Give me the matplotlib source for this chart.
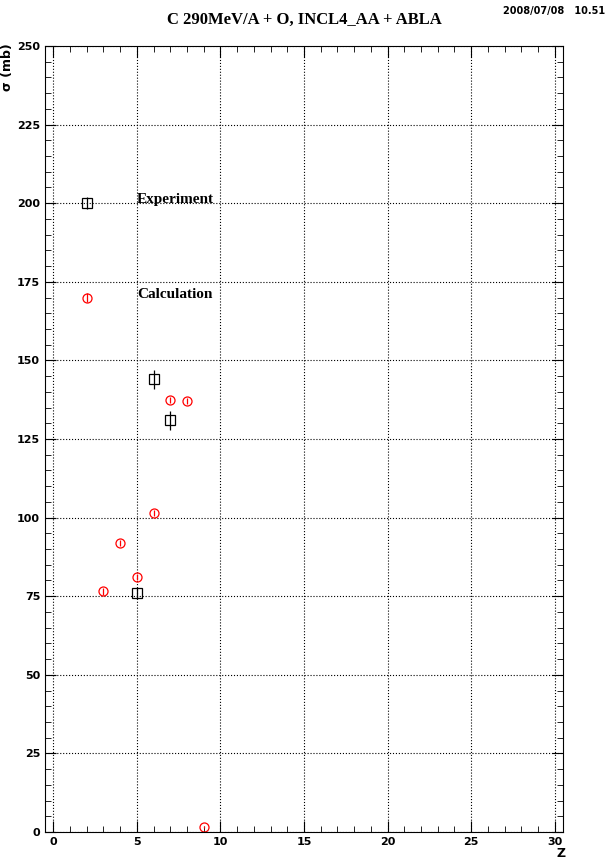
import matplotlib.pyplot as plt
from matplotlib.ticker import MultipleLocator

exp_z = [2, 5, 6, 7]
exp_sigma = [200, 76, 144, 131]
exp_err = [2, 2, 3, 3]

calc_z = [2, 3, 4, 5, 6, 7, 8, 9]
calc_sigma = [170, 76.5, 92, 81, 101.5, 137.5, 137, 1.5]
calc_err = [1.5, 1, 1, 1, 1, 1, 1, 0.3]

fig = plt.figure(figsize=(6.08, 8.61), dpi=100)
ax = fig.add_axes([45 / 608, 29 / 861, 518 / 608, 786 / 861])

ax.errorbar(exp_z, exp_sigma, yerr=exp_err, fmt='s', mfc='none', mec='black',
            ecolor='black', ms=6.5, mew=0.9, elinewidth=0.9)
ax.errorbar(calc_z, calc_sigma, yerr=calc_err, fmt='o', mfc='none', mec='red',
            ecolor='red', ms=6.5, mew=0.9, elinewidth=0.9)

ax.set_xlim(-0.5, 30.5)
ax.set_ylim(0, 250)
ax.xaxis.set_major_locator(MultipleLocator(5))
ax.xaxis.set_minor_locator(MultipleLocator(1))
ax.yaxis.set_major_locator(MultipleLocator(25))
ax.yaxis.set_minor_locator(MultipleLocator(5))
ax.tick_params(which='both', direction='in', top=True, right=True, labelsize=8)
ax.tick_params(which='major', length=8)
ax.tick_params(which='minor', length=4)
for lab in ax.get_xticklabels() + ax.get_yticklabels():
    lab.set_fontweight('bold')
ax.grid(True, which='major', linestyle=':', color='black', linewidth=0.8)

ax.text(5, 200, 'Experiment', fontsize=11, fontweight='bold', family='Liberation Serif')
ax.text(5, 170, 'Calculation', fontsize=11, fontweight='bold', family='Liberation Serif')

fig.text(0.5, 0.972, 'C 290MeV/A + O, INCL4_AA + ABLA', ha='center', fontsize=12,
         fontweight='bold', family='Liberation Serif')
fig.text(0.995, 0.993, '2008/07/08   10.51', ha='right', va='top', fontsize=7, fontweight='bold')
fig.text(0.922, 0.001, 'Z', ha='center', va='bottom', fontsize=9, fontweight='bold')
fig.text(0.012, 0.95, 'σ (mb)', rotation=90, ha='center', va='top', fontsize=9, fontweight='bold')

fig.savefig('out.png')
